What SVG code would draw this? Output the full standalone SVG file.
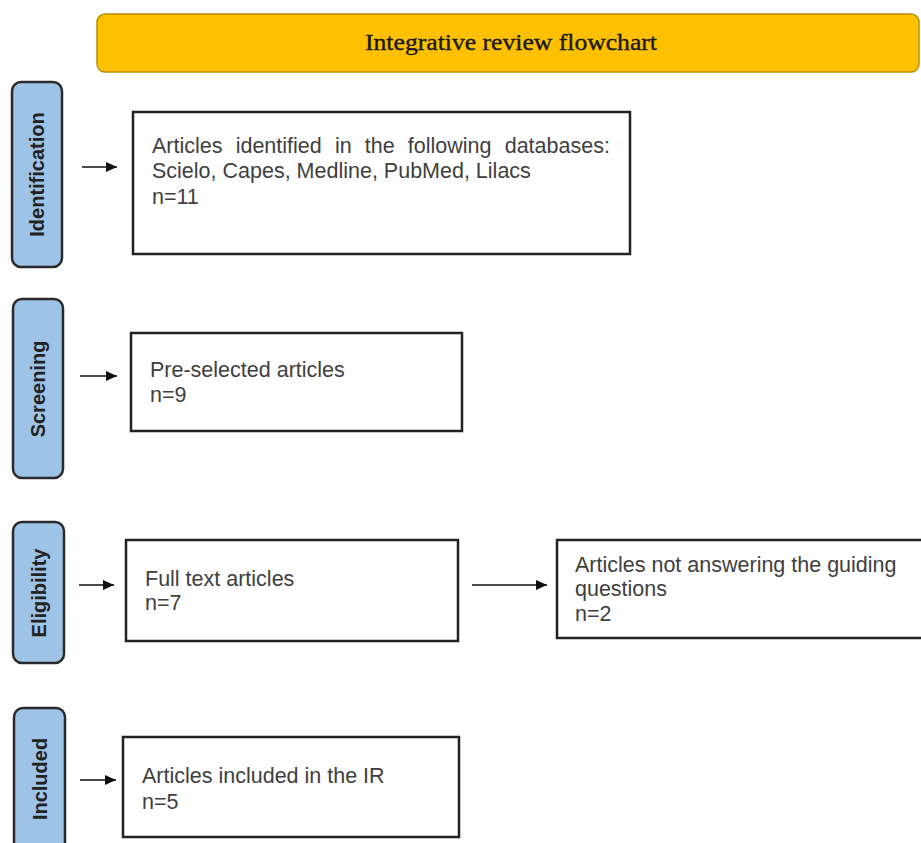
<svg xmlns="http://www.w3.org/2000/svg" width="921" height="843" viewBox="0 0 921 843">
<style>
.stage rect{fill:#9DC3E6;stroke:#2a2a2a;stroke-width:2.5}
.stage text{font-family:"Liberation Sans",Arial,sans-serif;font-weight:bold;font-size:20px;fill:#222;text-anchor:middle;dominant-baseline:central}
.box rect{fill:#fff;stroke:#222;stroke-width:2.5}
.box text{font-family:"Liberation Sans",Arial,sans-serif;font-size:21.5px;fill:#404040}
.conn line{stroke:#111;stroke-width:1.5}
</style>
<defs>
<marker id="ah" markerUnits="userSpaceOnUse" markerWidth="12" markerHeight="11" refX="11" refY="5" orient="auto">
<path d="M0,0 L11,5 L0,10 z" fill="#111"/>
</marker>
</defs>
<rect width="921" height="843" fill="#fff"/>
<g id="title">
<rect x="97" y="14" width="822" height="58" rx="8" fill="#FFC000" stroke="#B8900A" stroke-width="1.5"/>
<text x="511" y="50" font-family="'Liberation Serif','Times New Roman',serif" font-size="24" fill="#1a1a1a" stroke="#1a1a1a" stroke-width="0.4" text-anchor="middle" textLength="292" lengthAdjust="spacingAndGlyphs">Integrative review flowchart</text>
</g>
<g id="stage-identification" class="stage">
<rect x="12" y="82" width="50" height="185" rx="9"/>
<text transform="translate(37,174.5) rotate(-90)">Identification</text>
</g>
<g id="stage-screening" class="stage">
<rect x="13" y="299" width="50" height="179" rx="9"/>
<text transform="translate(38,389) rotate(-90)">Screening</text>
</g>
<g id="stage-eligibility" class="stage">
<rect x="13" y="522" width="51" height="141" rx="9"/>
<text transform="translate(38.5,593) rotate(-90)">Eligibility</text>
</g>
<g id="stage-included" class="stage">
<rect x="14" y="708" width="51" height="150" rx="9"/>
<text transform="translate(39.5,779) rotate(-90)">Included</text>
</g>
<g id="box-identified" class="box">
<rect x="133" y="112" width="497" height="142"/>
<text x="152" y="153" word-spacing="7.2">Articles identified in the following databases:</text>
<text x="152" y="178">Scielo, Capes, Medline, PubMed, Lilacs</text>
<text x="152" y="204">n=11</text>
</g>
<g id="box-screening" class="box">
<rect x="131" y="333" width="331" height="98"/>
<text x="150" y="377">Pre-selected articles</text>
<text x="150" y="402">n=9</text>
</g>
<g id="box-fulltext" class="box">
<rect x="126" y="540" width="332" height="101"/>
<text x="145" y="586">Full text articles</text>
<text x="145" y="610">n=7</text>
</g>
<g id="box-excluded" class="box">
<rect x="557" y="540" width="380" height="98"/>
<text x="575" y="572">Articles not answering the guiding</text>
<text x="575" y="596">questions</text>
<text x="575" y="621">n=2</text>
</g>
<g id="box-included" class="box">
<rect x="123" y="737" width="336" height="100"/>
<text x="142" y="783">Articles included in the IR</text>
<text x="142" y="809">n=5</text>
</g>
<g id="connectors" class="conn">
<line x1="82" y1="167" x2="117" y2="167" marker-end="url(#ah)"/>
<line x1="80" y1="376" x2="117" y2="376" marker-end="url(#ah)"/>
<line x1="79" y1="585" x2="114" y2="585" marker-end="url(#ah)"/>
<line x1="80" y1="780" x2="116" y2="780" marker-end="url(#ah)"/>
<line x1="472" y1="585" x2="547" y2="585" marker-end="url(#ah)"/>
</g>
</svg>
